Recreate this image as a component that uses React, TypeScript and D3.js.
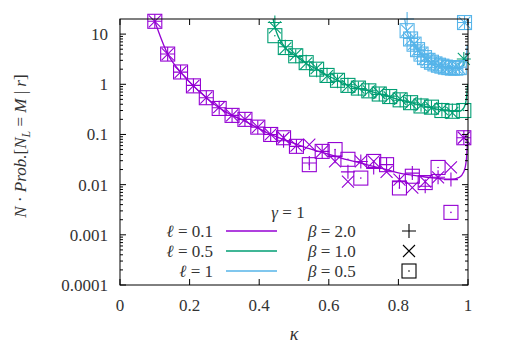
import React from "react";
import * as d3 from "d3";

// ---------- data ----------
const xTicks = [0, 0.2, 0.4, 0.6, 0.8, 1];
const xTickLabels = ["0", "0.2", "0.4", "0.6", "0.8", "1"];
const yTicks = [1e-4, 1e-3, 1e-2, 0.1, 1, 10];
const yTickLabels = ["0.0001", "0.001", "0.01", "0.1", "1", "10"];

// ell = 0.1 (purple)
const kappaP = [0.100, 0.137, 0.174, 0.211, 0.248, 0.285, 0.322, 0.359, 0.396, 0.433, 0.470, 0.507, 0.544, 0.581, 0.618, 0.655, 0.692, 0.729, 0.766, 0.803, 0.840, 0.877, 0.914, 0.951, 0.988];
const pB20 = [18, 4.0, 1.75, 0.95, 0.54, 0.34, 0.24, 0.20, 0.14, 0.10, 0.075, 0.058, 0.027, 0.046, 0.037, 0.018, 0.029, 0.022, 0.025, 0.0115, 0.017, 0.0093, 0.014, 0.0126, 0.086];
const pB10 = [18, 4.0, 1.75, 0.93, 0.54, 0.35, 0.24, 0.20, 0.14, 0.10, 0.086, 0.060, 0.063, 0.046, 0.029, 0.0115, 0.029, 0.029, 0.018, 0.0126, 0.0087, 0.0115, 0.014, 0.022, 0.086];
const pB05 = [18, 4.0, 1.76, 0.93, 0.54, 0.33, 0.24, 0.20, 0.14, 0.10, 0.086, 0.058, 0.025, 0.046, 0.050, 0.032, 0.0135, 0.029, 0.025, 0.0086, 0.0147, 0.011, 0.022, 0.0028, 0.086];
const lineKappaP = [0.100, 0.137, 0.174, 0.211, 0.248, 0.285, 0.322, 0.359, 0.396, 0.433, 0.470, 0.507, 0.544, 0.581, 0.618, 0.655, 0.692, 0.729, 0.766, 0.803, 0.840, 0.877, 0.914, 0.951, 0.975, 0.988, 0.995, 0.999];
const lineP = [18, 4.0, 1.75, 0.93, 0.54, 0.34, 0.24, 0.185, 0.135, 0.10, 0.080, 0.064, 0.052, 0.044, 0.037, 0.031, 0.027, 0.023, 0.020, 0.017, 0.0155, 0.0142, 0.0133, 0.0128, 0.014, 0.018, 0.03, 0.08];

// ell = 0.5 (green)
const kappaG = [0.445, 0.475, 0.505, 0.535, 0.565, 0.595, 0.625, 0.655, 0.685, 0.715, 0.745, 0.775, 0.805, 0.835, 0.865, 0.895, 0.925, 0.955, 0.988];
const gB20 = [17, 5.6, 3.6, 2.8, 1.9, 1.55, 1.15, 0.98, 0.82, 0.76, 0.63, 0.58, 0.48, 0.44, 0.39, 0.35, 0.31, 0.30, 3.2];
const gB10 = [13.6, 5.2, 3.9, 2.6, 2.1, 1.45, 1.25, 0.92, 0.86, 0.72, 0.67, 0.55, 0.51, 0.42, 0.38, 0.34, 0.32, 0.27, 3.2];
const gB05 = [9.3, 5.4, 3.7, 2.7, 2.0, 1.5, 1.2, 0.95, 0.84, 0.74, 0.64, 0.57, 0.49, 0.43, 0.37, 0.35, 0.30, 0.29, 0.30];
const lineKappaG = [0.440, 0.445, 0.475, 0.505, 0.535, 0.565, 0.595, 0.625, 0.655, 0.685, 0.715, 0.745, 0.775, 0.805, 0.835, 0.865, 0.895, 0.925, 0.955, 0.975, 0.988, 0.995, 0.999];
const lineG = [20, 14, 5.4, 3.7, 2.6, 2.0, 1.5, 1.2, 0.95, 0.83, 0.74, 0.65, 0.56, 0.49, 0.43, 0.38, 0.34, 0.31, 0.29, 0.29, 0.34, 0.5, 1.0];

// ell = 1 (blue)
const kappaB = [0.825, 0.835, 0.845, 0.855, 0.865, 0.875, 0.885, 0.895, 0.905, 0.915, 0.925, 0.935, 0.945, 0.955, 0.965, 0.975, 0.990];
const bB20 = [20, 8.2, 6.1, 5.0, 3.9, 3.5, 2.9, 2.8, 2.5, 2.45, 2.25, 2.25, 2.1, 2.15, 2.05, 2.2, 17];
const bB10 = [11.7, 7.8, 6.4, 4.8, 4.1, 3.3, 3.1, 2.7, 2.6, 2.35, 2.35, 2.15, 2.2, 2.05, 2.15, 2.1, 17];
const bB05 = [11.7, 8.0, 6.3, 4.9, 4.0, 3.4, 3.0, 2.75, 2.55, 2.4, 2.3, 2.2, 2.15, 2.1, 2.1, 2.15, 17];
const lineKappaB = [0.818, 0.825, 0.835, 0.845, 0.855, 0.865, 0.875, 0.885, 0.895, 0.905, 0.915, 0.925, 0.935, 0.945, 0.955, 0.965, 0.975, 0.985, 0.993, 0.998];
const lineB = [20, 11, 8, 6.3, 4.9, 4.0, 3.4, 3.0, 2.75, 2.55, 2.4, 2.3, 2.2, 2.15, 2.1, 2.1, 2.15, 2.3, 3.0, 6.0];

const ellLabels = ["0.1", "0.5", "1"];
const betaLabels = ["2.0", "1.0", "0.5"];
const colors = ["#9400d3", "#009e73", "#56b4e9"];

// ---------- layout ----------
const W = 505, H = 354;
const L = 120, R = 468, T = 19, B = 285;
const FONT = "'Liberation Serif', 'DejaVu Serif', serif";
const FS = 17;
const TXT = "#333";

const x = d3.scaleLinear().domain([0, 1]).range([L, R]);
const y = d3.scaleLog().domain([1e-4, 20]).range([B, T]);

type Shape = "plus" | "cross" | "square";

function Marker({ cx, cy, shape, color }: { cx: number; cy: number; shape: Shape; color: string }) {
  if (shape === "plus") {
    const s = 7;
    return <path d={`M${cx - s},${cy}H${cx + s}M${cx},${cy - s}V${cy + s}`} stroke={color} strokeWidth={1.1} fill="none" />;
  }
  if (shape === "cross") {
    const s = 6;
    return <path d={`M${cx - s},${cy - s}L${cx + s},${cy + s}M${cx - s},${cy + s}L${cx + s},${cy - s}`} stroke={color} strokeWidth={1.1} fill="none" />;
  }
  const s = 7;
  return (
    <g>
      <rect x={cx - s} y={cy - s} width={2 * s} height={2 * s} stroke={color} strokeWidth={1.1} fill="none" />
      <circle cx={cx} cy={cy} r={0.8} fill={color} />
    </g>
  );
}

const series = [
  { k: kappaP, b: [pB20, pB10, pB05], lk: lineKappaP, lv: lineP, c: colors[0] },
  { k: kappaG, b: [gB20, gB10, gB05], lk: lineKappaG, lv: lineG, c: colors[1] },
  { k: kappaB, b: [bB20, bB10, bB05], lk: lineKappaB, lv: lineB, c: colors[2] },
];
const shapes: Shape[] = ["plus", "cross", "square"];

export default function App() {
  const line = d3
    .line<[number, number]>()
    .x((d) => x(d[0]))
    .y((d) => y(d[1]))
    .curve(d3.curveMonotoneX);

  const minor: number[] = [];
  for (let e = -4; e <= 1; e++) {
    for (let m = 2; m <= 9; m++) {
      const v = m * Math.pow(10, e);
      if (v < 20) minor.push(v);
    }
  }

  const ts = { fontFamily: FONT };

  return (
    <svg width={W} height={H} style={{ position: "absolute", left: 0, top: 0, background: "#fff", fontFamily: FONT }}>
      <defs>
        <clipPath id="plot">
          <rect x={L} y={T} width={R - L} height={B - T} />
        </clipPath>
      </defs>

      {/* lines */}
      <g clipPath="url(#plot)">
        {series.map((s, i) => (
          <path key={i} d={line(s.lk.map((k, j) => [k, s.lv[j]] as [number, number])) || ""} fill="none" stroke={s.c} strokeWidth={1.3} />
        ))}
      </g>

      {/* points */}
      {series.map((s, i) => (
        <g key={i}>
          {s.b.map((vals, bi) =>
            vals.map((v, j) => (
              <Marker key={`${bi}-${j}`} cx={x(s.k[j])} cy={y(v)} shape={shapes[bi]} color={s.c} />
            ))
          )}
        </g>
      ))}

      {/* frame and ticks */}
      <g stroke="#000" strokeWidth={1}>
        <rect x={L} y={T} width={R - L} height={B - T} fill="none" />
        {xTicks.map((t) => (
          <g key={t}>
            <line x1={x(t)} x2={x(t)} y1={B} y2={B - 6} />
            <line x1={x(t)} x2={x(t)} y1={T} y2={T + 6} />
          </g>
        ))}
        {yTicks.map((t) => (
          <g key={t}>
            <line x1={L} x2={L + 6} y1={y(t)} y2={y(t)} />
            <line x1={R} x2={R - 6} y1={y(t)} y2={y(t)} />
          </g>
        ))}
        {minor.map((t) => (
          <g key={t}>
            <line x1={L} x2={L + 3} y1={y(t)} y2={y(t)} />
            <line x1={R} x2={R - 3} y1={y(t)} y2={y(t)} />
          </g>
        ))}
      </g>

      {/* tick labels */}
      <g fill={TXT} fontSize={FS} style={ts}>
        {xTicks.map((t, i) => (
          <text key={t} x={x(t)} y={B + 26} textAnchor="middle" style={ts}>{xTickLabels[i]}</text>
        ))}
        {yTicks.map((t, i) => (
          <text key={t} x={L - 12} y={y(t) + 6} textAnchor="end" style={ts}>{yTickLabels[i]}</text>
        ))}
      </g>

      {/* axis labels */}
      <text x={x(0.5)} y={340} textAnchor="middle" fontSize={FS + 1} fontStyle="italic" fill={TXT} style={ts}>κ</text>
      <text transform={`translate(26,${(T + B) / 2 - 6}) rotate(-90)`} textAnchor="middle" fontSize={FS} fill={TXT} style={ts}>
        <tspan fontStyle="italic">N</tspan>
        <tspan> · </tspan>
        <tspan fontStyle="italic">Prob.</tspan>
        <tspan>[</tspan>
        <tspan fontStyle="italic">N</tspan>
        <tspan fontStyle="italic" fontSize={12} dy={4}>L</tspan>
        <tspan dy={-4}> = </tspan>
        <tspan fontStyle="italic">M</tspan>
        <tspan> | </tspan>
        <tspan fontStyle="italic">r</tspan>
        <tspan>]</tspan>
      </text>

      {/* legend */}
      <text x={288} y={218} textAnchor="middle" fontSize={FS} fill={TXT} style={ts}>
        <tspan fontStyle="italic">γ</tspan> = 1
      </text>
      {ellLabels.map((lab, i) => (
        <g key={lab}>
          <text x={213} y={237 + i * 20} textAnchor="end" fontSize={FS} fill={TXT} style={ts}>
            <tspan fontStyle="italic">ℓ</tspan> = {lab}
          </text>
          <line x1={226} x2={277} y1={231 + i * 20} y2={231 + i * 20} stroke={colors[i]} strokeWidth={1.3} />
        </g>
      ))}
      {betaLabels.map((lab, i) => (
        <g key={lab}>
          <text x={308} y={237 + i * 20} textAnchor="start" fontSize={FS} fill={TXT} style={ts}>
            <tspan fontStyle="italic">β</tspan> = {lab}
          </text>
          <Marker cx={409} cy={231 + i * 20} shape={shapes[i]} color="#000" />
        </g>
      ))}
    </svg>
  );
}
